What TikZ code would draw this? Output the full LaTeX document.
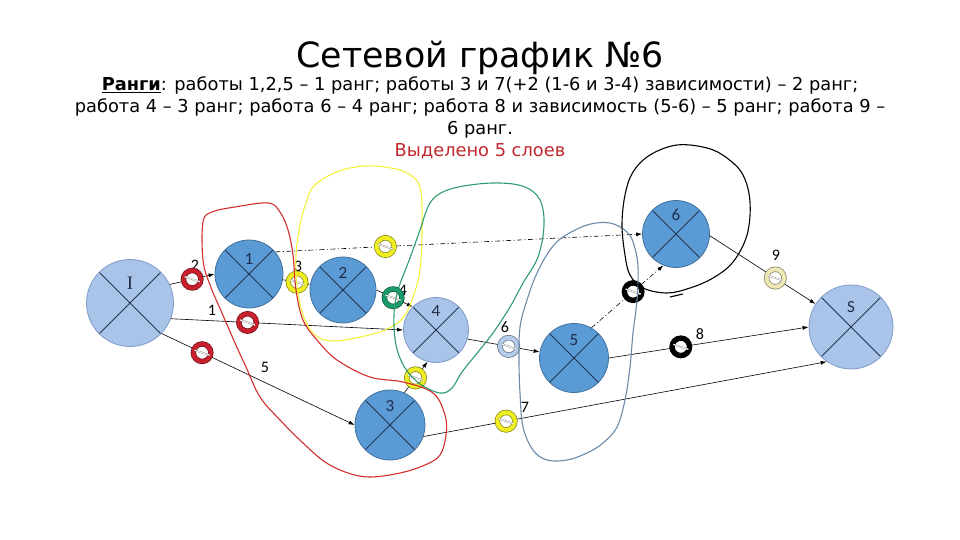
\documentclass[tikz,border=0pt]{standalone}
\usepackage{fontspec}
\setmainfont{DejaVu Sans}
\newfontfamily\numfont{Carlito}
\newfontfamily\romfont{Liberation Serif}
\usetikzlibrary{arrows.meta}

\definecolor{evdark}{HTML}{5B9BD5}
\definecolor{evborder}{HTML}{41719C}
\definecolor{evlight}{HTML}{A9C4E8}
\definecolor{evlightborder}{HTML}{7F9CC9}
\definecolor{evcross}{HTML}{1F3552}
\definecolor{navy}{HTML}{1F2D4A}
\definecolor{ringred}{HTML}{C8202C}
\definecolor{ringyellow}{HTML}{EEEE22}
\definecolor{ringgreen}{HTML}{1A9C6A}
\definecolor{ringblue}{HTML}{B4CCEA}
\definecolor{ringpale}{HTML}{EDE8B4}
\definecolor{loopred}{HTML}{D22E2E}
\definecolor{loopyellow}{HTML}{F2F23A}
\definecolor{loopgreen}{HTML}{2F9C6B}
\definecolor{loopslate}{HTML}{6C8BA8}
\definecolor{titlered}{HTML}{C0282D}

\begin{document}
\begin{tikzpicture}[
  x=1pt, y=-1pt,
  >={Latex[length=6pt,width=4pt]},
  evt/.style={circle, draw=evborder, fill=evdark, line width=0.8pt,
    minimum size=#1, inner sep=0pt,
    path picture={\draw[evcross, line width=0.8pt]
      (path picture bounding box.north west) -- (path picture bounding box.south east)
      (path picture bounding box.north east) -- (path picture bounding box.south west);}},
  evtlight/.style={evt=#1, fill=evlight, draw=evlightborder},
  tag/.style={font=\numfont\fontsize{17}{17}\selectfont, text=navy},
  elbl/.style={font=\numfont\fontsize{16}{16}\selectfont},
  slashmark/.style={circle, minimum size=19pt, inner sep=0pt, solid,
    path picture={\draw[-, solid, gray!85, line width=0.45pt, double=white, double distance=0.8pt]
      ([shift={(-7.5pt,2.5pt)}]path picture bounding box.center) --
      ([shift={(7.5pt,-2.5pt)}]path picture bounding box.center);}},
  ring/.style={circle, solid, minimum size=17.5pt, inner sep=0pt, fill=white,
    draw=#1!55!black, line width=0.7pt, double=#1, double distance=4pt,
    label={[slashmark]center:}},
  work/.style={->, line width=0.6pt},
  dep/.style={->, line width=0.6pt, dash pattern=on 5pt off 2.5pt on 1pt off 2.5pt},
  body/.style={font=\fontsize{17.8}{21}\selectfont, anchor=base},
  hand/.style={line width=1.1pt, line join=round}
]
  \useasboundingbox (0,0) rectangle (960,540);

  % title and ranks
  \node[font=\fontsize{34.8}{38}\selectfont, anchor=base] (title) at (480,68) {Сетевой график №6};
  \node[body] (rank1) at (480,91)
    {\textbf{\underline{Ранги}}: работы 1,2,5 – 1 ранг; работы 3 и 7(+2 (1-6 и 3-4) зависимости) – 2 ранг;};
  \node[body] (rank2) at (480,113)
    {работа 4 – 3 ранг; работа 6 – 4 ранг; работа 8 и зависимость (5-6) – 5 ранг; работа 9 –};
  \node[body] (rank3) at (480,135) {6 ранг.};
  \node[body, text=titlered] (layers) at (480,157) {Выделено 5 слоев};

  % events
  \node[evtlight=87pt, label={[tag, font=\romfont\fontsize{19}{19}\selectfont, yshift=20pt]center:I}] (I) at (130,303) {};
  \node[evt=68pt, label={[tag, yshift=15pt]center:1}] (1) at (249,274) {};
  \node[evt=66pt, label={[tag, yshift=17pt]center:2}] (2) at (343,290) {};
  \node[evtlight=65pt, label={[tag, yshift=19pt]center:4}] (4) at (436,330) {};
  \node[evt=70pt, label={[tag, yshift=19pt]center:3}] (3) at (390,425) {};
  \node[evt=69pt, label={[tag, yshift=18pt]center:5}] (5) at (574,358) {};
  \node[evt=67pt, label={[tag, yshift=19pt]center:6}] (6) at (676,234) {};
  \node[evtlight=84pt, label={[tag, yshift=20pt]center:S}] (S) at (851,327) {};

  % works and dependencies
  \node[elbl] (l2) at (195,265) {2};
  \node[elbl] (l1) at (212,310) {1};
  \node[elbl] (l5) at (265,367) {5};
  \node[elbl] (l3) at (298,266) {3};
  \node[elbl] (l4) at (403,290) {4};
  \node[elbl] (l6) at (505,327) {6};
  \node[elbl] (l7) at (525,407) {7};
  \node[elbl] (l8) at (700,334) {8};
  \node[elbl] (l9) at (776,255) {9};

  \draw[work] (I.25) -- node[ring=ringred, pos=0.5] (r2) {} (1.west);
  \draw[work] (I.-21) -- node[ring=ringred, pos=0.33] (r1) {} (4.west);
  \draw[work] (I.-44) -- node[ring=ringred, pos=0.21] (r5) {} (3.west);
  \draw[work] (1) -- node[ring=ringyellow, pos=0.52] (r3) {} (2);
  \draw[dep] (1.40) -- node[ring=ringyellow, pos=0.3] (d16) {} (6.west);
  \draw[work] (2.east) -- node[ring=ringgreen, pos=0.46] (r4) {} (4.north west);
  \draw[work] (3.66) -- node[ring=ringyellow, pos=0.48] (d34) {} (4.-105);
  \draw[work] (4.-16) -- node[ring=ringblue, pos=0.57] (r6) {} (5.170);
  \draw[dep] (5.60) -- node[ring=black, pos=0.58] (d56) {} (6.-112);
  \draw[work] (5.east) -- node[ring=black, pos=0.36] (r8) {} (S.west);
  \draw[work] (3.-19) -- node[ring=ringyellow, pos=0.205] (r7) {} (S.-125);
  \draw[work] (6.-3) -- node[ring=ringpale, pos=0.62] (r9) {} (S.147);

  % hand drawn layers
  \draw[hand, loopred] plot[smooth cycle, tension=0.6] coordinates {
    (203,222) (212,212) (235,207) (268,203) (280,212) (288,230) (293,255)
    (296,290) (303,320) (317,340) (337,360) (370,377) (403,382) (433,393)
    (445,415) (446,435) (440,455) (425,465) (400,473) (370,477) (348,473)
    (325,462) (303,443) (280,420) (260,397) (246,367) (235,343) (222,313)
    (210,285) (203,260)};
  \draw[hand, loopyellow] plot[smooth cycle, tension=0.6] coordinates {
    (313,187) (330,175) (350,168) (375,166) (405,172) (420,188) (422,230)
    (420,270) (413,297) (403,318) (385,330) (360,337) (333,341) (315,335)
    (303,315) (297,285) (296,255) (300,225) (306,203)};
  \draw[hand, loopgreen] plot[smooth cycle, tension=0.6] coordinates {
    (430,203) (445,191) (470,185) (500,183) (525,187) (540,200) (544,225)
    (538,257) (523,283) (510,307) (493,333) (478,352) (462,372) (452,388)
    (440,393) (420,384) (405,368) (396,345) (394,315) (398,290) (410,258)
    (420,230)};
  \draw[hand, loopslate] plot[smooth cycle, tension=0.6] coordinates {
    (520,327) (527,300) (537,273) (550,250) (563,237) (587,225) (610,223)
    (627,232) (634,245) (638,267) (637,300) (633,333) (630,367) (625,400)
    (617,427) (603,443) (587,453) (567,460) (547,460) (533,450) (523,427)
    (520,393) (519,360)};
  \draw[hand, black] plot[smooth cycle, tension=0.6] coordinates {
    (677,145) (650,155) (633,172) (625,195) (622,225) (625,255) (630,275)
    (643,288) (667,293) (690,288) (713,278) (733,262) (747,235) (750,202)
    (743,175) (727,158) (707,148)};
  \draw[hand, black] (670,297) -- (683,294);
\end{tikzpicture}
\end{document}
